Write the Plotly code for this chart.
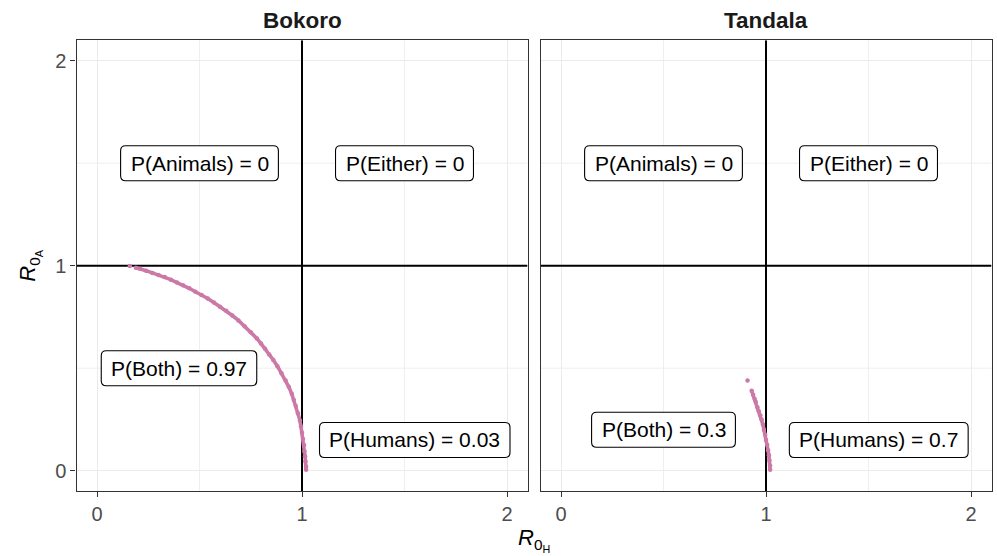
import plotly.graph_objects as go

# ---- data ----
panels = ["Bokoro", "Tandala"]

bokoro_r0h = [0.16, 0.19, 0.21, 0.24, 0.27, 0.30, 0.33, 0.36, 0.39, 0.42, 0.45, 0.48,
              0.51, 0.54, 0.57, 0.60, 0.63, 0.66, 0.69, 0.72, 0.75, 0.78, 0.80, 0.82,
              0.84, 0.86, 0.88, 0.90, 0.92, 0.935, 0.95, 0.96, 0.97, 0.98, 0.99, 0.995,
              1.00, 1.005, 1.01, 1.012, 1.015, 1.017, 1.02, 1.02]
bokoro_r0a = [0.998, 0.99, 0.985, 0.975, 0.965, 0.955, 0.945, 0.932, 0.918, 0.905, 0.89, 0.873,
              0.857, 0.84, 0.82, 0.80, 0.78, 0.757, 0.733, 0.705, 0.675, 0.645, 0.62, 0.595,
              0.567, 0.54, 0.51, 0.475, 0.44, 0.41, 0.375, 0.345, 0.315, 0.28, 0.245, 0.215,
              0.185, 0.155, 0.125, 0.095, 0.07, 0.045, 0.02, 0.005]

tandala_r0h = [0.91, 0.93, 0.937, 0.945, 0.95, 0.958, 0.965, 0.972, 0.979, 0.985, 0.99,
               0.996, 1.0, 1.006, 1.01, 1.014, 1.017, 1.02, 1.02]
tandala_r0a = [0.44, 0.39, 0.37, 0.35, 0.335, 0.31, 0.29, 0.27, 0.25, 0.225, 0.2,
               0.175, 0.15, 0.125, 0.1, 0.075, 0.05, 0.025, 0.005]

# quadrant labels: (panel, x, y, text)
label_panel = [0, 0, 0, 0, 1, 1, 1, 1]
label_x = [0.5, 1.5, 0.4, 1.55, 0.5, 1.5, 0.5, 1.55]
label_y = [1.5, 1.5, 0.5, 0.15, 1.5, 1.5, 0.2, 0.15]
label_text = ["P(Animals) = 0", "P(Either) = 0", "P(Both) = 0.97", "P(Humans) = 0.03",
              "P(Animals) = 0", "P(Either) = 0", "P(Both) = 0.3", "P(Humans) = 0.7"]

tick_vals = [0, 1, 2]
tick_text = ["0", "1", "2"]
minor_grid = [0.5, 1.5]
threshold = 1

# ---- figure ----
W, H = 997, 556
PINK = "#CC79A7"
FONT = "Liberation Sans, Arial, sans-serif"
LABEL_SIZE = 21
AXIS_MIN, AXIS_MAX = -0.1, 2.1

# Arial advance widths (per 1000 em) for measuring label boxes
CHAR_W = {"P": 667, "(": 333, ")": 333, "A": 667, "n": 556, "i": 222, "m": 833, "a": 556,
          "l": 222, "s": 500, " ": 278, "=": 584, "E": 667, "t": 278, "h": 556, "e": 556,
          "r": 333, "B": 667, "o": 556, "H": 722, "u": 556, ".": 278}

def text_width(t, size):
    return sum(CHAR_W.get(c, 556) for c in t) / 1000 * size

fig = go.Figure()
series = [(bokoro_r0h, bokoro_r0a), (tandala_r0h, tandala_r0a)]
for i, (xs, ys) in enumerate(series):
    xa = "x" if i == 0 else "x2"
    ya = "y" if i == 0 else "y2"
    # minor grid lines (0.5, 1.5) as thin light traces
    for m in minor_grid:
        fig.add_trace(go.Scatter(x=[m, m], y=[AXIS_MIN, AXIS_MAX], mode="lines",
                                 xaxis=xa, yaxis=ya, line=dict(color="#EBEBEB", width=0.8),
                                 hoverinfo="skip", showlegend=False))
        fig.add_trace(go.Scatter(x=[AXIS_MIN, AXIS_MAX], y=[m, m], mode="lines",
                                 xaxis=xa, yaxis=ya, line=dict(color="#EBEBEB", width=0.8),
                                 hoverinfo="skip", showlegend=False))
    # threshold lines R0 = 1
    fig.add_trace(go.Scatter(x=[threshold, threshold], y=[AXIS_MIN, AXIS_MAX], mode="lines",
                             xaxis=xa, yaxis=ya, line=dict(color="black", width=2),
                             hoverinfo="skip", showlegend=False))
    fig.add_trace(go.Scatter(x=[AXIS_MIN, AXIS_MAX], y=[threshold, threshold], mode="lines",
                             xaxis=xa, yaxis=ya, line=dict(color="black", width=2),
                             hoverinfo="skip", showlegend=False))
    fig.add_trace(go.Scatter(x=xs[1:], y=ys[1:], mode="lines", xaxis=xa, yaxis=ya,
                             line=dict(color=PINK, width=3.6), hoverinfo="skip",
                             showlegend=False))
    fig.add_trace(go.Scatter(x=xs, y=ys, mode="markers", xaxis=xa, yaxis=ya,
                             marker=dict(color=PINK, size=4.5, line=dict(width=0)),
                             showlegend=False))

def px_x(p):
    return p / W

def px_y(p):
    return 1 - p / H

dom_y = [px_y(491.2), px_y(40.2)]
dom_x1 = [px_x(76.5), px_x(527.5)]
dom_x2 = [px_x(540.5), px_x(991.5)]

axis_common = dict(
    range=[AXIS_MIN, AXIS_MAX], tickvals=tick_vals, ticktext=tick_text,
    showgrid=True, gridcolor="#EBEBEB", gridwidth=1.4,
    zeroline=False, showline=True, linecolor="#333333", linewidth=1.4, mirror=True,
    ticks="outside", ticklen=5, tickwidth=1.3, tickcolor="#333333",
    tickfont=dict(family=FONT, size=20, color="#4D4D4D"),
    fixedrange=True,
)
axis_noticks = {k: v for k, v in axis_common.items() if k != "ticks"}

fig.update_layout(
    width=W, height=H,
    margin=dict(l=0, r=0, t=0, b=0),
    paper_bgcolor="white", plot_bgcolor="white",
    showlegend=False,
    xaxis=dict(domain=dom_x1, anchor="y", **axis_common),
    xaxis2=dict(domain=dom_x2, anchor="y2", **axis_common),
    yaxis=dict(domain=dom_y, anchor="x", **axis_common),
    yaxis2=dict(domain=dom_y, anchor="x2", showticklabels=False, ticks="", **axis_noticks),
)

# rounded label boxes (pixel-sized, anchored at data positions)
shapes = []
annotations = []
R = 5
BOX_H = 35
for p, x, y, t in zip(label_panel, label_x, label_y, label_text):
    xr = "x" if p == 0 else "x2"
    yr = "y" if p == 0 else "y2"
    w2 = (text_width(t, LABEL_SIZE) + 19.5) / 2
    h2 = BOX_H / 2
    path = (f"M {-w2 + R},{-h2} L {w2 - R},{-h2} Q {w2},{-h2} {w2},{-h2 + R} "
            f"L {w2},{h2 - R} Q {w2},{h2} {w2 - R},{h2} L {-w2 + R},{h2} "
            f"Q {-w2},{h2} {-w2},{h2 - R} L {-w2},{-h2 + R} Q {-w2},{-h2} {-w2 + R},{-h2} Z")
    shapes.append(dict(type="path", xref=xr, yref=yr, xsizemode="pixel", ysizemode="pixel",
                       xanchor=x, yanchor=y, path=path, fillcolor="white",
                       line=dict(color="black", width=1.1), layer="above"))
    annotations.append(dict(
        xref=xr, yref=yr, x=x, y=y, text=t, showarrow=False,
        xanchor="center", yanchor="middle",
        font=dict(family=FONT, size=LABEL_SIZE, color="black"),
    ))
fig.update_layout(shapes=shapes)

# facet titles
for i, name in enumerate(panels):
    dom = dom_x1 if i == 0 else dom_x2
    annotations.append(dict(
        xref="paper", yref="paper", x=(dom[0] + dom[1]) / 2, y=px_y(20),
        text="<b>" + name + "</b>", showarrow=False, xanchor="center", yanchor="middle",
        font=dict(family=FONT, size=22.5, color="#1A1A1A"),
    ))

# axis titles
annotations.append(dict(
    xref="paper", yref="paper", x=(dom_x1[0] + dom_x2[1]) / 2, y=px_y(540),
    text="<i>R</i><sub>0<sub>H</sub></sub>", showarrow=False, xanchor="center",
    yanchor="middle", font=dict(family=FONT, size=22, color="black"),
))
annotations.append(dict(
    xref="paper", yref="paper", x=px_x(30), y=px_y(265.7),
    text="<i>R</i><sub>0<sub>A</sub></sub>", showarrow=False, xanchor="center",
    yanchor="middle", textangle=-90, font=dict(family=FONT, size=22, color="black"),
))
fig.update_layout(annotations=annotations)

fig.write_html("out.html")
